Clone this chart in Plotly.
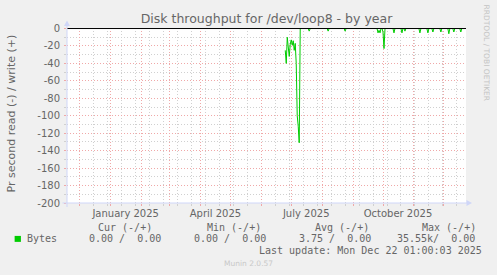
import plotly.graph_objects as go
import pandas as pd

# ---------------- data (read = negative, bytes/s, daily) ----------------
read_dates = [
    "2025-06-25", "2025-06-26", "2025-06-27", "2025-06-28", "2025-06-29",
    "2025-06-30", "2025-07-01", "2025-07-02", "2025-07-03", "2025-07-04",
    "2025-07-05", "2025-07-06", "2025-07-07", "2025-07-08", "2025-07-09",
    "2025-07-10", "2025-07-18", "2025-07-19", "2025-07-20", "2025-08-06",
    "2025-08-07", "2025-08-08", "2025-08-23", "2025-08-24", "2025-08-25",
    "2025-09-25", "2025-09-26", "2025-09-27", "2025-09-28", "2025-09-29",
    "2025-09-30", "2025-10-01", "2025-10-02", "2025-10-03", "2025-10-11",
    "2025-10-12", "2025-10-13", "2025-10-19", "2025-10-20", "2025-10-21",
    "2025-10-22", "2025-10-23", "2025-10-24", "2025-11-06", "2025-11-07",
    "2025-11-08", "2025-11-14", "2025-11-15", "2025-11-16", "2025-11-19",
    "2025-11-20", "2025-11-21", "2025-11-27", "2025-11-28", "2025-11-29",
    "2025-12-05", "2025-12-06", "2025-12-07", "2025-12-10", "2025-12-11",
    "2025-12-12", "2025-12-17", "2025-12-18", "2025-12-19", "2025-12-22",
]
read_values = [
    -25, -40, -10, -22, -32,
    -18, -13, -19, -14, -25,
    -17, -40, -100, -112, -131,
    0, 0, -3, 0, 0,
    -3, 0, 0, -3, 0,
    0, -5, -2, -5, 0,
    0, -4, -23, 0, 0,
    -5, 0, 0, -5, 0,
    0, -3, 0, 0, -5,
    0, 0, -5, 0, 0,
    -4, 0, 0, -4, 0,
    0, -6, 0, 0, -4,
    0, 0, -4, 0, 0,
]

x_range = ["2024-11-18 04:48", "2025-12-23 04:48"]
month_grid = ["2024-12-01", "2025-01-01", "2025-02-01", "2025-03-01", "2025-04-01",
              "2025-05-01", "2025-06-01", "2025-07-01", "2025-08-01", "2025-09-01",
              "2025-10-01", "2025-11-01", "2025-12-01"]
week_grid = [d.strftime("%Y-%m-%d") for d in pd.date_range("2024-11-17", "2025-12-23", freq="14D")]
x_label_vals = ["2025-01-16", "2025-04-16", "2025-07-16", "2025-10-16"]
x_label_text = ["January 2025", "April 2025", "July 2025", "October 2025"]
y_tick_vals = [0, -20, -40, -60, -80, -100, -120, -140, -160, -180, -200]
y_tick_text = ["0", "-20", "-40", "-60", "-80", "-100", "-120", "-140", "-160", "-180", "-200"]
y_minor_vals = [-10, -30, -50, -70, -90, -110, -130, -150, -170, -190]

legend_headers = ["Cur (-/+)", "Min (-/+)", "Avg (-/+)", "Max (-/+)"]
legend_values = ["0.00 /  0.00", "0.00 /  0.00", "3.75 /  0.00", "35.55k/  0.00"]
series_name = "Bytes"
title_text = "Disk throughput for /dev/loop8 - by year"
y_title = "Pr second read (-) / write (+)"
last_update = "Last update: Mon Dec 22 01:00:03 2025"
side_text = "RRDTOOL / TOBI OETIKER"
footer = "Munin 2.0.57"

# ---------------- layout geometry ----------------
FW, FH = 497, 275
L, R, T, B = 66.5, 30.5, 28, 71.5
PW, PH = FW - L - R, FH - T - B

def px(x):
    return (x - L) / PW

def py(y):
    return (FH - B - y) / PH

GREEN = "#00CC00"
FONT_C = "#666666"
AXIS_C = "#CFD6F8"
GRID_C = "#D0D0D0"
MGRID_C = "#F0A8A8"
SANS = "DejaVu Sans"
MONO = "DejaVu Sans Mono"
DOT = "1px,2px"

fig = go.Figure()
fig.add_trace(go.Scatter(
    x=read_dates, y=read_values, mode="lines",
    line=dict(color=GREEN, width=1), showlegend=False, hoverinfo="skip",
    xaxis="x", yaxis="y",
))

fig.update_layout(
    width=FW, height=FH,
    margin=dict(l=L, r=R, t=T, b=B, pad=0),
    paper_bgcolor="#F0F0F0", plot_bgcolor="#FFFFFF",
    showlegend=False,
    title=dict(text=title_text, x=0.5, xanchor="center", xref="paper",
               y=1 - 18.5 / FH, yanchor="middle", yref="container",
               font=dict(family=SANS, size=12.5, color=FONT_C)),
    xaxis=dict(
        type="date", range=x_range,
        tickmode="array", tickvals=month_grid, showticklabels=False,
        showgrid=True, gridcolor=MGRID_C, griddash=DOT, gridwidth=1,
        ticks="outside", ticklen=2, tickcolor=MGRID_C,
        minor=dict(tickmode="array", tickvals=week_grid,
                   showgrid=True, gridcolor=GRID_C, griddash=DOT, gridwidth=1,
                   ticks="outside", ticklen=2, tickcolor=GRID_C),
        showline=False, zeroline=False, fixedrange=True,
    ),
    xaxis2=dict(
        type="date", range=x_range, overlaying="x", anchor="y", side="bottom",
        tickmode="array", tickvals=x_label_vals, ticktext=x_label_text,
        showgrid=False, ticks="", showline=False, zeroline=False,
        ticklabelstandoff=3,
        tickfont=dict(family=SANS, size=10, color=FONT_C),
    ),
    yaxis=dict(
        range=[-200, 0.6], tickmode="array", tickvals=y_tick_vals, ticktext=y_tick_text,
        showgrid=True, gridcolor=MGRID_C, griddash=DOT, gridwidth=1,
        ticks="outside", ticklen=2, tickcolor=MGRID_C,
        minor=dict(tickmode="array", tickvals=y_minor_vals, showgrid=True,
                   gridcolor=GRID_C, griddash=DOT, gridwidth=1,
                   ticks="outside", ticklen=2, tickcolor=GRID_C),
        ticklabelstandoff=2,
        tickfont=dict(family=SANS, size=10, color=FONT_C),
        showline=False, zeroline=False, fixedrange=True,
    ),
)

fig.add_trace(go.Scatter(x=x_range, y=[None, None], xaxis="x2", yaxis="y",
                         mode="lines", showlegend=False, hoverinfo="skip"))

shapes = []
shapes.append(dict(type="line", xref="paper", yref="y", x0=0, x1=1, y0=0, y1=0,
                   line=dict(color="#000000", width=1), layer="above"))
shapes.append(dict(type="line", xref="paper", yref="paper",
                   x0=px(62), x1=px(469), y0=py(203.5), y1=py(203.5),
                   line=dict(color=AXIS_C, width=1), layer="above"))
shapes.append(dict(type="line", xref="paper", yref="paper",
                   x0=px(66.5), x1=px(66.5), y0=py(207.5), y1=py(24),
                   line=dict(color=AXIS_C, width=1), layer="above"))
shapes.append(dict(type="path", xref="paper", yref="paper",
                   path=f"M {px(467)} {py(200.5)} L {px(472.5)} {py(203.5)} L {px(467)} {py(206.5)} Z",
                   fillcolor=AXIS_C, line=dict(width=0), layer="above"))
shapes.append(dict(type="path", xref="paper", yref="paper",
                   path=f"M {px(63.5)} {py(26)} L {px(66.5)} {py(20.5)} L {px(69.5)} {py(26)} Z",
                   fillcolor=AXIS_C, line=dict(width=0), layer="above"))
shapes.append(dict(type="rect", xref="paper", yref="paper",
                   x0=px(14), x1=px(20.3), y0=py(242.5), y1=py(236.5),
                   fillcolor=GREEN, line=dict(width=0)))
fig.update_layout(shapes=shapes)

ann = []

def text(s, x, y, anchor="left", size=10, family=MONO, color=FONT_C, angle=0):
    ann.append(dict(text=s, x=px(x), y=py(y), xref="paper", yref="paper",
                    xanchor=anchor, yanchor="middle", showarrow=False,
                    borderpad=0, borderwidth=0, textangle=angle,
                    font=dict(family=family, size=size, color=color)))

header_x = [98, 206.7, 315, 422.7]
value_x = [89, 194, 299.3, 397.7]
for h, x in zip(legend_headers, header_x):
    text(h, x, 228)
text(series_name, 26.3, 239.5)
for v, x in zip(legend_values, value_x):
    text(v, x, 239.5)
text(last_update, 482.3, 251, anchor="right")
text(footer, 248, 264, anchor="center", size=7.5, family=SANS, color="#C8C8C8")
text(side_text, 487.3, 53.3, anchor="center", size=7.5, family=SANS, color="#C4C4C4", angle=90)
text(y_title, 11, 114, anchor="center", size=11, family=SANS, angle=-90)
fig.update_layout(annotations=ann)

fig.write_html("out.html")
